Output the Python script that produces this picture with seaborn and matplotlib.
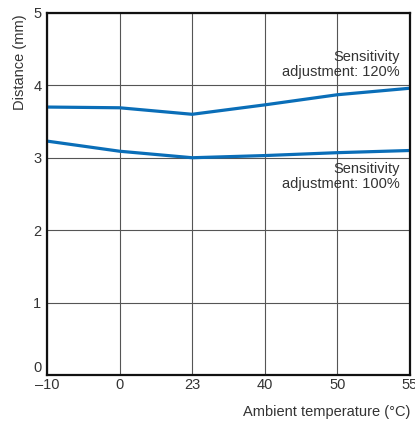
import matplotlib
matplotlib.use("Agg")
import matplotlib.pyplot as plt
import seaborn as sns
import pandas as pd

# values
temps = ["\u201310", "0", "23", "40", "50", "55"]
dist_120 = [3.70, 3.69, 3.60, 3.73, 3.87, 3.96]
dist_100 = [3.23, 3.09, 3.00, 3.03, 3.07, 3.10]
series = ["120%", "100%"]

rows = []
for i, t in enumerate(temps):
    rows.append({"pos": i, "dist": dist_120[i], "setting": series[0]})
    rows.append({"pos": i, "dist": dist_100[i], "setting": series[1]})
data = pd.DataFrame(rows)

sns.set_style("white")
plt.rcParams["font.family"] = ["Liberation Sans", "DejaVu Sans"]
txt = "#333333"
fs = 10.5

fig = plt.figure(figsize=(4.15, 4.23), dpi=100)
ax = fig.add_axes([0.113, 0.1135, 0.875, 0.856])

ax.grid(True, color="#555555", linewidth=0.8)
ax.set_axisbelow(True)

sns.lineplot(data=data, x="pos", y="dist", units="setting", estimator=None,
             color="#0A6EB8", linewidth=2.3, ax=ax, legend=False,
             solid_joinstyle="round", solid_capstyle="butt")

ax.set_xlim(0, len(temps) - 1)
ax.set_ylim(0, 5)
ax.set_xticks(range(len(temps)))
ax.set_xticklabels(temps)
ax.set_yticks([0, 1, 2, 3, 4, 5])
ax.tick_params(length=0, labelsize=fs, labelcolor=txt)
ax.tick_params(axis="x", pad=2)
ax.tick_params(axis="y", pad=4)
ax.get_yticklabels()[0].set_va("bottom")
ax.set_xlabel("")
ax.set_ylabel("")

for s in ax.spines.values():
    s.set_visible(True)
    s.set_color("#111111")
    s.set_linewidth(1.6)

fig.text(0.048, 0.965, "Distance (mm)", rotation=90, ha="center", va="top",
         fontsize=fs, color=txt)
fig.text(0.988, 0.027, "Ambient temperature (\u00b0C)", ha="right", va="center",
         fontsize=fs, color=txt)

ax.text(0.972, 0.898, "Sensitivity\nadjustment: 120%", transform=ax.transAxes,
        ha="right", va="top", fontsize=fs, color=txt, linespacing=1.1)
ax.text(0.972, 0.588, "Sensitivity\nadjustment: 100%", transform=ax.transAxes,
        ha="right", va="top", fontsize=fs, color=txt, linespacing=1.1)

fig.savefig("out.png", dpi=100)
